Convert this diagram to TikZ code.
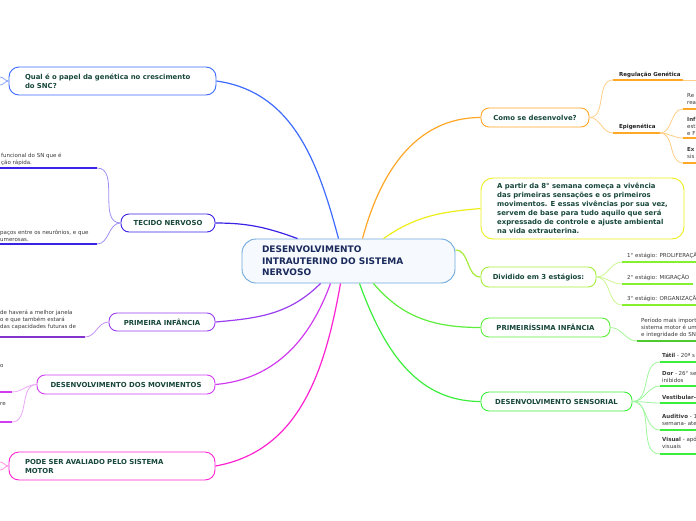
\documentclass[tikz,border=0pt]{standalone}
\usepackage{fontspec}
\setmainfont{DejaVu Sans}
\usetikzlibrary{positioning}

\definecolor{labelgreen}{HTML}{17473A}
\definecolor{navy}{HTML}{1B2A5C}
\definecolor{leafgray}{HTML}{3A3A3A}
\definecolor{leafdark}{HTML}{222222}
\definecolor{ccentral}{HTML}{6FA8DC}
\definecolor{centralfill}{HTML}{F6FAFE}
\definecolor{cblue}{HTML}{3D6BFF}
\definecolor{cindigo}{HTML}{3A22E6}
\definecolor{cviolet}{HTML}{9B3DF0}
\definecolor{cpurple}{HTML}{D23CF0}
\definecolor{cmagenta}{HTML}{FF22D2}
\definecolor{corange}{HTML}{FFA726}
\definecolor{cyellow}{HTML}{EEEE1A}
\definecolor{clime}{HTML}{A6EE3A}
\definecolor{cgreen}{HTML}{5CEE3A}
\definecolor{cgreenb}{HTML}{3CEE3C}

\begin{document}
\begin{tikzpicture}[x=1pt, y=-1pt,
    topic/.style={draw, rounded corners=8pt, fill=white, line width=0.9pt,
                  font=\fontsize{6.9}{9}\selectfont\bfseries, text=labelgreen,
                  minimum height=19pt, inner xsep=0pt, inner ysep=2pt},
    wide/.style={topic, align=left, inner xsep=16pt, rounded corners=10pt},
    leaf/.style={font=\fontsize{5.5}{7}\selectfont, text=leafgray,
                 align=left, anchor=west, inner sep=0pt},
    link/.style={line width=1.2pt},
    twig/.style={line width=0.8pt},
    under/.style={line width=1.8pt}
  ]
    \useasboundingbox (0,0) rectangle (696,520);
    \fill[white] (0,0) rectangle (696,520);
    \clip (0,0) rectangle (696,520);

    % main topics
    \node[draw=ccentral, fill=centralfill, line width=0.9pt, rounded corners=14pt,
          text width=173pt, inner xsep=20pt, minimum height=44pt, align=left,
          font=\fontsize{9}{11.5}\selectfont\bfseries, text=navy]
          (root) at (348.5,261) {DESENVOLVIMENTO\\INTRAUTERINO DO SISTEMA\\NERVOSO};

    \node[wide, draw=cblue, text width=175pt, minimum height=28pt]  (genetica) at (112.5,81)
          {Qual é o papel da genética no crescimento\\do SNC?};
    \node[topic, draw=cindigo, minimum width=94pt, minimum height=18pt]  (tecido) at (168,223) {TECIDO NERVOSO};
    \node[topic, draw=cviolet, minimum width=106pt, minimum height=18pt] (infancia) at (162,322) {PRIMEIRA INFÂNCIA};
    \node[topic, draw=cpurple, minimum width=178pt] (movimentos) at (126,384.5) {DESENVOLVIMENTO DOS MOVIMENTOS};
    \node[wide, draw=cmagenta, text width=174pt, minimum height=28pt] (avaliado) at (112,466)
          {PODE SER AVALIADO PELO SISTEMA\\MOTOR};

    \node[topic, draw=corange, minimum width=108pt] (como) at (535,117.5) {Como se desenvolve?};
    \node[topic, draw=cyellow, align=left, minimum width=203pt, minimum height=61pt,
          rounded corners=12pt] (vivencia) at (582.5,208.5)
          {A partir da 8° semana começa a vivência\\das primeiras sensações e os primeiros\\movimentos. E essas vivências por sua vez,\\servem de base para tudo aquilo que será\\expressado de controle e ajuste ambiental\\na vida extrauterina.};
    \node[topic, draw=clime, minimum width=115pt, minimum height=20pt] (estagios) at (538.5,277) {Dividido em 3 estágios:};
    \node[topic, draw=cgreen, minimum width=129pt] (primeirissima) at (545.5,327.5) {PRIMEIRÍSSIMA INFÂNCIA};
    \node[topic, draw=cgreenb, minimum width=151pt] (sensorial) at (556.5,401.5) {DESENVOLVIMENTO SENSORIAL};

    % links from the root
    \draw[link, cblue]    ([xshift=-10pt]root.north) to[out=105,in=-8] (genetica.east);
    \draw[link, cindigo]  ([xshift=-51pt]root.north) to[out=160,in=0]  (tecido.east);
    \draw[link, cviolet]  ([xshift=-28pt]root.south) to[out=-135,in=5] (infancia.east);
    \draw[link, cpurple]  ([xshift=-18pt]root.south) to[out=-110,in=5] (movimentos.east);
    \draw[link, cmagenta] ([xshift=-8pt]root.south)  to[out=-100,in=10] (avaliado.east);
    \draw[link, corange]  ([xshift=14pt]root.north)  to[out=75,in=180] (como.west);
    \draw[link, cyellow]  ([xshift=35pt]root.north)  to[out=35,in=185] (vivencia.west);
    \draw[link, clime]    ([yshift=11pt]root.east)   to[out=0,in=180]  (estagios.west);
    \draw[link, cgreen]   ([xshift=25pt]root.south)  to[out=-50,in=180] (primeirissima.west);
    \draw[link, cgreenb]  ([xshift=11pt]root.south)  to[out=-70,in=180] (sensorial.west);

    % genetica: branches leaving the page
    \coordinate (gen1) at (0,77);
    \coordinate (gen2) at (0,85);
    \draw[twig, cblue!60] (genetica.west) to[out=180,in=0] (gen1);
    \draw[twig, cblue!60] (genetica.west) to[out=180,in=0] (gen2);

    % tecido nervoso
    \coordinate (tn1) at (97,168);
    \coordinate (tn2) at (97,244);
    \draw[under, cindigo] (tn1) -- +(-97,0);
    \draw[under, cindigo] (tn2) -- +(-97,0);
    \draw[twig, cindigo!50] (tecido.west) to[out=180,in=0] (tn1);
    \draw[twig, cindigo!50] (tecido.west) to[out=180,in=0] (tn2);
    \node[leaf] (tn1t) at (1,159.5) {funcional do SN que é\\ção rápida.};
    \node[leaf] (tn2t) at (0,235.5) {paços entre os neurônios, e que\\umerosas.};

    % primeira infancia
    \coordinate (pi1) at (85,337);
    \draw[under, cviolet!85!black] (pi1) -- +(-85,0);
    \draw[twig, cviolet!55] (infancia.west) to[out=180,in=0] (pi1);
    \node[leaf] (pi1t) at (0,319.5) {de haverá a melhor janela\\o e que também estará\\das capacidades futuras de};

    % movimentos
    \coordinate (mv1) at (12,392);
    \coordinate (mv2) at (12,422);
    \draw[under, cpurple] (mv1) -- +(-12,0);
    \draw[under, cpurple] (mv2) -- +(-12,0);
    \draw[twig, cpurple!45] (movimentos.west) to[out=180,in=0] (mv1);
    \draw[twig, cpurple!45] (movimentos.west) to[out=180,in=0] (mv2);
    \node[leaf] (mv1t) at (0,366) {o};
    \node[leaf] (mv2t) at (0,404) {re};

    % avaliado: branches leaving the page
    \coordinate (av1) at (0,462);
    \coordinate (av2) at (0,470);
    \draw[twig, cmagenta!50] (avaliado.west) to[out=180,in=0] (av1);
    \draw[twig, cmagenta!50] (avaliado.west) to[out=180,in=0] (av2);

    % como se desenvolve
    \coordinate (rg) at (613,80);
    \coordinate (ep) at (613,133);
    \draw[twig, corange!55] (como.east) to[out=0,in=180] (rg);
    \draw[twig, corange!55] (como.east) to[out=0,in=180] (ep);
    \draw[under, corange] (rg) -- +(70,0) coordinate (rgend);
    \draw[twig, corange!55] (rgend) -- +(13,0);
    \draw[under, corange] (ep) -- +(47,0) coordinate (epend);
    \node[leaf, text=leafdark, font=\fontsize{5.5}{7}\selectfont\bfseries] (rgt) at (619,75) {Regulação Genética};
    \node[leaf, text=leafdark, font=\fontsize{5.5}{7}\selectfont\bfseries] (ept) at (619,127) {Epigenética};

    \coordinate (ep1) at (683,109);
    \coordinate (ep2) at (683,138);
    \coordinate (ep3) at (683,163);
    \foreach \c in {ep1,ep2,ep3} {
      \draw[twig, corange!55] (epend) to[out=0,in=180] (\c);
      \draw[under, corange] (\c) -- +(13,0);
    }
    \node[leaf] (ep1t) at (687,99)    {Re\\rea};
    \node[leaf] (ep2t) at (687,126)   {\textbf{Inf}\\est\\e F};
    \node[leaf] (ep3t) at (687,153.5) {\textbf{Ex}\\sis};

    % estagios
    \coordinate (st1) at (622,262);
    \coordinate (st2) at (622,284);
    \coordinate (st3) at (622,305);
    \foreach \c/\len in {st1/74,st2/71,st3/74} {
      \draw[twig, clime!55] (estagios.east) to[out=0,in=180] (\c);
      \draw[under, clime!80!green] (\c) -- +(\len,0);
    }
    \node[leaf] (st1t) at (627,256) {1° estágio: PROLIFERAÇÃ};
    \node[leaf] (st2t) at (627,278) {2° estágio: MIGRAÇÃO};
    \node[leaf] (st3t) at (627,299) {3° estágio: ORGANIZAÇÃ};

    % primeirissima infancia
    \coordinate (pp1) at (637,341);
    \draw[twig, cgreen!55] (primeirissima.east) to[out=0,in=180] (pp1);
    \draw[under, cgreen!85!black] (pp1) -- +(59,0);
    \node[leaf] (pp1t) at (641,328) {Período mais import\\sistema motor é um\\e integridade do SN};

    % sensorial
    \coordinate (se1) at (660,362);
    \coordinate (se2) at (660,386);
    \coordinate (se3) at (660,403);
    \coordinate (se4) at (660,430);
    \coordinate (se5) at (660,454);
    \foreach \c in {se1,se2,se3,se4,se5} {
      \draw[twig, cgreenb!50] (sensorial.east) to[out=0,in=180] (\c);
      \draw[under, cgreenb] (\c) -- +(36,0);
    }
    \node[leaf] (se1t) at (662,355)   {\textbf{Tátil} - 20ª s};
    \node[leaf] (se2t) at (662,376.5) {\textbf{Dor} - 26° se\\inibidos};
    \node[leaf] (se3t) at (662,397)   {\textbf{Vestibular-}};
    \node[leaf] (se4t) at (662,419.5) {\textbf{Auditivo} - 1\\semana- ate};
    \node[leaf] (se5t) at (662,443)   {\textbf{Visual} - apó\\visuais};
\end{tikzpicture}
\end{document}
